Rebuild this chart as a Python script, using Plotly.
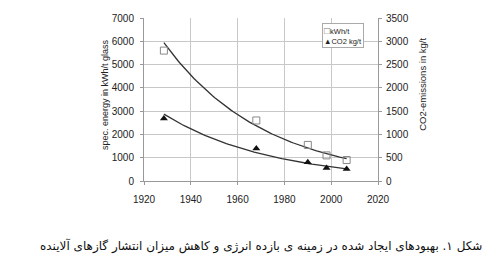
import numpy as np
import plotly.graph_objects as go

# Data
years = [1928.5, 1968, 1990, 1998, 2006.6]
energy_kwh_t = [5600, 2600, 1550, 1100, 900]      # left axis
co2_kg_t = [1340, 700, 400, 280, 260]            # right axis

x_ticks = [1920, 1940, 1960, 1980, 2000, 2020]
legend_labels = ["kWh/t", "CO2 kg/t"]
caption = "شکل ۱. بهبودهای ایجاد شده در زمینه ی بازده انرژی و کاهش میزان انتشار گازهای آلاینده"


def exp_trend(x, y):
    x = np.asarray(x, float)
    y = np.asarray(y, float)
    b, a = np.polyfit(x, np.log(y), 1)
    xs = np.linspace(x.min(), x.max(), 80)
    return xs, np.exp(a + b * xs)


tx1, ty1 = exp_trend(years, energy_kwh_t)
tx2, ty2 = exp_trend(years, co2_kg_t)

fig = go.Figure()
fig.add_trace(go.Scatter(x=tx1, y=ty1, mode="lines", line=dict(color="#333", width=1.3),
                         showlegend=False, hoverinfo="skip"))
fig.add_trace(go.Scatter(x=tx2, y=ty2, mode="lines", line=dict(color="#333", width=1.3),
                         showlegend=False, hoverinfo="skip", yaxis="y2"))
fig.add_trace(go.Scatter(x=years, y=energy_kwh_t, mode="markers", name=legend_labels[0],
                         showlegend=False,
                         marker=dict(symbol="square-open", size=7, color="#888",
                                     line=dict(width=1, color="#888"))))
fig.add_trace(go.Scatter(x=years, y=co2_kg_t, mode="markers", name=legend_labels[1], yaxis="y2",
                         showlegend=False,
                         marker=dict(symbol="triangle-up", size=7, color="#111")))

tickfont = dict(family="Liberation Sans, Arial, sans-serif", size=10, color="#222")

fig.update_layout(
    width=500, height=268,
    margin=dict(l=144, r=122, t=14, b=87),
    paper_bgcolor="white", plot_bgcolor="white",
    xaxis=dict(range=[1920, 2020], tickvals=x_ticks, ticktext=[str(v) for v in x_ticks],
               showgrid=True, gridcolor="#c8c8c8", gridwidth=1,
               showline=True, linecolor="#999", linewidth=1,
               ticks="outside", ticklen=3, tickcolor="#999", ticklabelstandoff=6,
               tickfont=tickfont, zeroline=False, mirror=False),
    yaxis=dict(range=[0, 7000], dtick=1000, showgrid=True, gridcolor="#c8c8c8", gridwidth=1,
               showline=True, linecolor="#999", linewidth=1,
               ticks="outside", ticklen=3, tickcolor="#999", ticklabelstandoff=4,
               tickfont=tickfont, zeroline=False),
    yaxis2=dict(range=[0, 3500], dtick=500, overlaying="y", side="right", showgrid=False,
                showline=True, linecolor="#999", linewidth=1,
                ticks="outside", ticklen=3, tickcolor="#999", ticklabelstandoff=2,
                tickfont=tickfont, zeroline=False),
    showlegend=False,
    annotations=[
        dict(text="spec. energy in kWh/t glass", textangle=-90, showarrow=False,
             xref="paper", yref="paper", x=-0.167, y=0.533, xanchor="center", yanchor="middle",
             font=dict(family="Liberation Sans, Arial, sans-serif", size=9, color="#222")),
        dict(text="CO2-emissions in kg/t", textangle=-90, showarrow=False,
             xref="paper", yref="paper", x=1.19, y=0.593, xanchor="center", yanchor="middle",
             font=dict(family="Liberation Sans, Arial, sans-serif", size=9.5, color="#222")),
        dict(text="<span style='color:#777;font-size:10px'>□</span>" + legend_labels[0]
                  + "<br>▲" + legend_labels[1],
             showarrow=False, align="left",
             xref="paper", yref="paper", x=0.761, y=0.97, xanchor="left", yanchor="top",
             bgcolor="white", bordercolor="#aaa", borderwidth=1, borderpad=1,
             font=dict(family="Liberation Sans, Arial, sans-serif", size=7.5, color="#222")),
        dict(text=caption, showarrow=False,
             xref="paper", yref="paper", x=0.5, y=-0.40, xanchor="center", yanchor="middle",
             font=dict(family="DejaVu Sans, sans-serif", size=12, color="#111")),
    ],
)

fig.write_html("out.html")
